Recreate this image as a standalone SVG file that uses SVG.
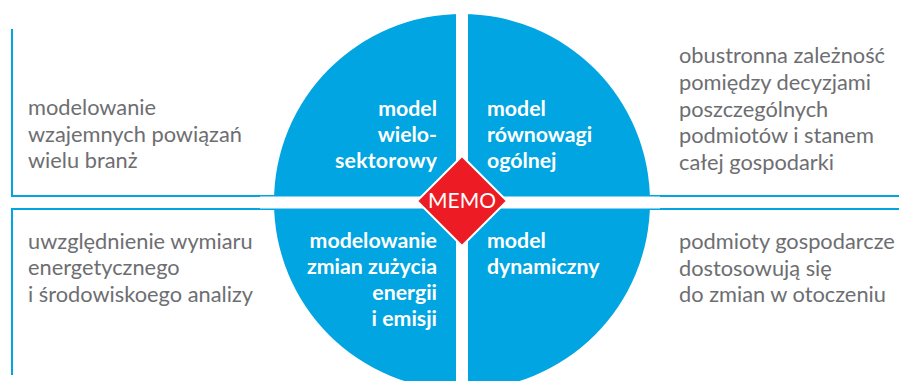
<svg xmlns="http://www.w3.org/2000/svg" width="899" height="381" viewBox="0 0 899 381">
<style>
.ln{fill:none;stroke:#00A5E1;stroke-width:2}
.q{fill:#00A5E1}
.w{font-family:Lato,"Liberation Sans",sans-serif;font-weight:bold;font-size:21.3px;fill:#fff}
.g{font-family:Lato,"Liberation Sans",sans-serif;font-size:21.8px;fill:#6D6E71}
</style>
<rect width="899" height="381" fill="#fff"/>
<g id="connectors">
<path class="ln" d="M12,29 V196 H300"/>
<path class="ln" d="M12,375 V209 H300"/>
<path class="ln" d="M899,196 H620"/>
<path class="ln" d="M899,209 H620"/>
</g>
<g id="circle">
<circle class="q" cx="462" cy="202" r="188"/>
<rect x="456" y="0" width="12" height="381" fill="#fff"/>
<rect x="260" y="196.5" width="400" height="12" fill="#fff"/>
</g>
<g id="q-tl">
<text class="w" text-anchor="end"><tspan x="437" y="116">model</tspan><tspan x="437" y="142">wielo-</tspan></text>
<text class="w" x="335" y="168" textLength="102" lengthAdjust="spacing">sektorowy</text>
</g>
<g id="q-tr">
<text class="w"><tspan x="487" y="116">model</tspan><tspan x="487" y="142">równowagi</tspan><tspan x="487" y="168">ogólnej</tspan></text>
</g>
<g id="q-bl">
<text class="w" text-anchor="end"><tspan x="437" y="248">modelowanie</tspan><tspan x="437" y="274">zmian zużycia</tspan><tspan x="437" y="300">energii</tspan><tspan x="437" y="326">i emisji</tspan></text>
</g>
<g id="q-br">
<text class="w"><tspan x="487" y="248">model</tspan><tspan x="487" y="274">dynamiczny</tspan></text>
</g>
<g id="memo">
<polygon points="462,156 507,201 462,246 417,201" fill="#ED1C24" stroke="#fff" stroke-width="2"/>
<text x="462" y="207.5" text-anchor="middle" style="font-family:Lato,'Liberation Sans',sans-serif;font-size:21px;fill:#fff">MEMO</text>
</g>
<g id="d-tl">
<text class="g"><tspan x="28" y="115">modelowanie</tspan><tspan x="28" y="141.5">wzajemnych powiązań</tspan><tspan x="28" y="168">wielu branż</tspan></text>
</g>
<g id="d-bl">
<text class="g"><tspan x="28" y="248.5">uwzględnienie wymiaru</tspan><tspan x="28" y="275">energetycznego</tspan><tspan x="28" y="301.5">i środowiskoego analizy</tspan></text>
</g>
<g id="d-tr">
<text class="g" x="679" y="63" textLength="206" lengthAdjust="spacing">obustronna zależność</text>
<text class="g"><tspan x="679" y="90">pomiędzy decyzjami</tspan><tspan x="679" y="116.5">poszczególnych</tspan><tspan x="679" y="143.3">podmiotów i stanem</tspan><tspan x="679" y="170">całej gospodarki</tspan></text>
</g>
<g id="d-br">
<text class="g"><tspan x="679" y="249.3">podmioty gospodarcze</tspan><tspan x="679" y="276">dostosowują się</tspan><tspan x="679" y="302">do zmian w otoczeniu</tspan></text>
</g>
</svg>
